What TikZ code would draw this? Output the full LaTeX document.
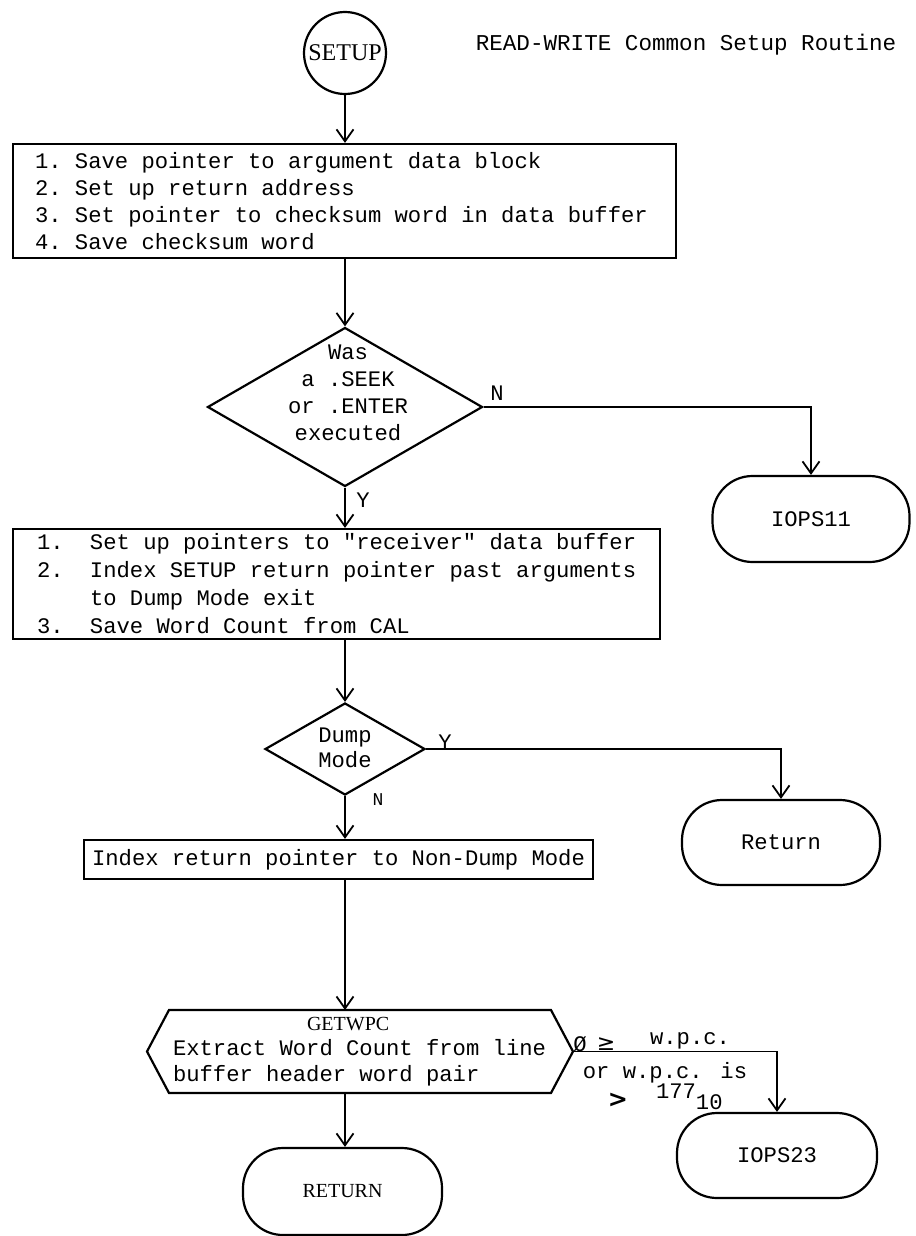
\documentclass[tikz,border=0pt]{standalone}
\usepackage{fontspec}
\setmainfont{Liberation Mono}
\newfontfamily\tmsfont{Liberation Serif}
\newfontfamily\dvfont{DejaVu Sans}
\newfontfamily\qtfont{Liberation Mono}
\usetikzlibrary{arrows.meta,shapes.geometric}
\newcommand\monosp{\spaceskip=0.6em\relax\xspaceskip=0.6em\relax}
\newcommand\sqt{{\qtfont\symbol{34}}}
\begin{document}
\begin{tikzpicture}[x=0.5pt,y=-0.5pt,
  line width=1pt,
  mono/.style={font=\fontsize{11.1pt}{13.6pt}\selectfont},
  arr/.style={-{Straight Barb[length=6pt,width=8.5pt]}, line width=0.9pt},
  box/.style={draw, rectangle, line width=1.1pt, inner xsep=0pt, inner ysep=0pt, align=left, mono},
  term/.style={draw, rectangle, rounded corners=20pt, line width=1.1pt, mono, inner sep=0pt},
  dec/.style={draw, diamond, inner sep=0pt, line width=1.1pt},
  yn/.style={mono, inner sep=0pt}
]
\fill[white] (0,0) rectangle (915,1236);
\useasboundingbox (0,0) rectangle (915,1236);

% start
\node[draw, circle, minimum size=41pt, inner sep=0pt, line width=1.1pt,
      font=\tmsfont\fontsize{12pt}{14pt}\selectfont] (setup) at (345,53) {SETUP};
\node[font=\fontsize{11.3pt}{13.6pt}\selectfont] (title) at (686,45) {READ-WRITE Common Setup Routine};

% box 1
\node[box, minimum width=331.5pt, minimum height=57pt, text width=331.5pt] (b1) at (344.5,201)
 {\monosp
  \hspace*{11pt}\makebox[20pt][l]{1.}Save pointer to argument data block\\
  \hspace*{11pt}\makebox[20pt][l]{2.}Set up return address\\
  \hspace*{11pt}\makebox[20pt][l]{3.}Set pointer to checksum word in data buffer\\
  \hspace*{11pt}\makebox[20pt][l]{4.}Save checksum word};

% decision 1
\node[dec, minimum width=137.5pt, minimum height=79.5pt] (d1) at (345,407) {};
\node[mono, align=center, inner sep=0pt, font=\fontsize{11.1pt}{13.5pt}\selectfont] (d1t) at (348,392.5)
 {Was\\a .SEEK\\or .ENTER\\executed};

\node[term, minimum width=98.5pt, minimum height=43pt] (io11) at (811,519) {IOPS11};

% box 2
\node[box, minimum width=323.5pt, minimum height=55pt, text width=323.5pt,
      font=\fontsize{11.1pt}{14pt}\selectfont] (b2) at (336.5,584)
 {\monosp
  \hspace*{12pt}\makebox[26.5pt][l]{1.}Set up pointers to \sqt receiver\sqt\ data buffer\\
  \hspace*{12pt}\makebox[26.5pt][l]{2.}Index SETUP return pointer past arguments\\
  \hspace*{12pt}\hspace*{26.5pt}to Dump Mode exit\\
  \hspace*{12pt}\makebox[26.5pt][l]{3.}Save Word Count from CAL};

% decision 2
\node[dec, minimum width=80pt, minimum height=46pt] (dump) at (345,749) {};
\node[mono, align=center, inner sep=0pt, font=\fontsize{11.1pt}{12.5pt}\selectfont] (dumpt) at (345,748) {Dump\\Mode};

\node[term, minimum width=99pt, minimum height=42.5pt] (ret) at (781,842.5) {Return};

% box 3
\node[box, minimum width=254.5pt, minimum height=19.5pt] (b3) at (338.5,859.5) {Index return pointer to Non-Dump Mode};

% GETWPC
\node[rectangle, inner xsep=0pt, inner ysep=0pt, minimum width=190pt, minimum height=40.5pt,
      text width=190pt, align=left, font=\fontsize{11.1pt}{12.75pt}\selectfont] (gw) at (360,1051.5)
 {\monosp
  \hspace*{68.5pt}{\tmsfont\fontsize{10pt}{12.75pt}\selectfont GETWPC}\\
  \hspace*{1.5pt}Extract Word Count from line\\
  \hspace*{1.5pt}buffer header word pair};
\draw[line width=1.1pt, line join=miter] (gw.north west) -- (gw.north east) -- ([xshift=11pt]gw.east) coordinate (gwtip)
  -- (gw.south east) -- (gw.south west) -- ([xshift=-11pt]gw.west) -- cycle;

\node[term, minimum width=99.5pt, minimum height=43.5pt,
      font=\tmsfont\fontsize{10pt}{12pt}\selectfont] (RET) at (342.5,1191.5) {RETURN};
\node[term, minimum width=100pt, minimum height=42.5pt] (io23) at (777,1155.5) {IOPS23};

% connectors
\draw[arr] (setup) -- (b1.north -| setup);
\draw[arr] (b1.south -| setup) -- (d1.north);
\draw[arr] (d1.east) -| (io11.north);
\node[yn] (n1) at (497,393) {N};
\draw[arr] (d1.south) -- (b2.north -| d1);
\node[yn] (y1) at (363,500) {Y};
\draw[arr] (b2.south -| d1) -- (dump.north);
\draw[arr] (dump.east) -| (ret.north);
\node[yn] (y2) at (445,742) {Y};
\draw[arr] (dump.south) -- (b3.north -| dump);
\node[yn, font=\fontsize{9pt}{11pt}\selectfont] (n2) at (378,800) {N};
\draw[arr] (b3.south -| dump) -- (gw.north -| dump);
\draw[arr] (gw.south -| dump) -- (RET.north -| dump);
\draw[arr] (gwtip) -| (io23.north);

% condition label
\node[mono, inner sep=0pt] (c0) at (580,1044) {Ø};
\node[inner sep=0pt, font=\dvfont\fontsize{11pt}{13pt}\selectfont] (c1) at (606,1044) {≥};
\node[mono, inner sep=0pt] (c2) at (690,1041) {w.p.c.};
\node[mono, inner sep=0pt] (c3) at (665,1073) {or w.p.c. is};
\node[inner sep=0pt, font=\dvfont\bfseries\fontsize{12pt}{14pt}\selectfont] (c4) at (618,1100) {>};
\node[mono, inner sep=0pt, anchor=west] (c5) at (655,1097) {177\raisebox{-5.5pt}{10}};
\end{tikzpicture}
\end{document}
